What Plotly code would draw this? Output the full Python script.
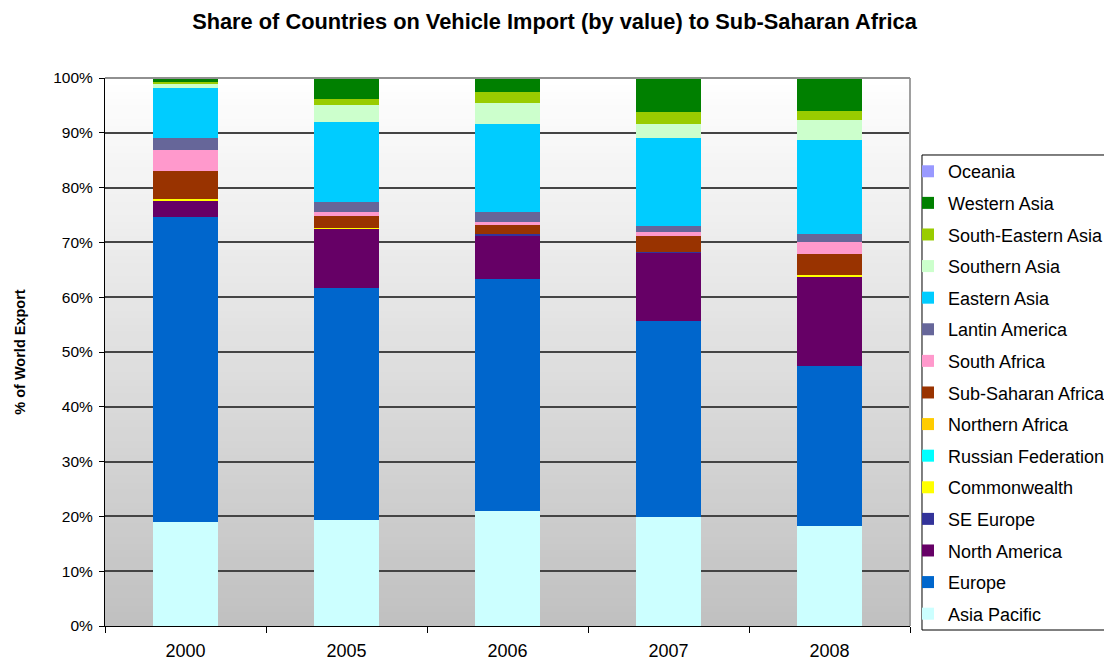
import plotly.graph_objects as go

years = ["2000", "2005", "2006", "2007", "2008"]

# stacked bottom -> top
asia_pacific      = [18.9, 19.3, 20.9, 19.9, 18.2]
europe            = [55.8, 42.4, 42.5, 35.8, 29.2]
north_america     = [3.0, 10.8, 7.9, 12.4, 16.4]
se_europe         = [0.0, 0.0, 0.2, 0.1, 0.0]
commonwealth      = [0.3, 0.2, 0.0, 0.0, 0.2]
russian_fed       = [0.0, 0.0, 0.0, 0.0, 0.0]
northern_africa   = [0.0, 0.0, 0.0, 0.0, 0.0]
sub_saharan       = [5.1, 2.2, 1.7, 3.0, 3.9]
south_africa      = [3.7, 0.7, 0.6, 0.7, 2.2]
latin_america     = [2.2, 1.8, 1.8, 1.1, 1.5]
eastern_asia      = [9.1, 14.6, 16.0, 16.1, 17.1]
southern_asia     = [0.9, 3.1, 3.8, 2.5, 3.6]
south_eastern_asia = [0.3, 1.1, 2.0, 2.2, 1.7]
western_asia      = [0.7, 3.8, 2.6, 6.2, 6.0]
oceania           = [0.0, 0.0, 0.0, 0.0, 0.0]

series = [
    ("Asia Pacific", asia_pacific, "#CCFFFF"),
    ("Europe", europe, "#0066CC"),
    ("North America", north_america, "#660066"),
    ("SE Europe", se_europe, "#333399"),
    ("Commonwealth", commonwealth, "#FFFF00"),
    ("Russian Federation", russian_fed, "#00FFFF"),
    ("Northern Africa", northern_africa, "#FFCC00"),
    ("Sub-Saharan Africa", sub_saharan, "#993300"),
    ("South Africa", south_africa, "#FF99CC"),
    ("Lantin America", latin_america, "#666699"),
    ("Eastern Asia", eastern_asia, "#00CCFF"),
    ("Southern Asia", southern_asia, "#CCFFCC"),
    ("South-Eastern Asia", south_eastern_asia, "#99CC00"),
    ("Western Asia", western_asia, "#008000"),
    ("Oceania", oceania, "#9999FF"),
]

FONT = "Liberation Sans, Arial, sans-serif"

fig = go.Figure()
for i, (name, vals, col) in enumerate(series):
    fig.add_trace(go.Bar(x=years, y=vals, name=name, legendgroup=name,
                         legendrank=1000 - i,
                         marker=dict(color=col, line=dict(width=0))))

# gradient background stripes
shapes = []
n = 80
for i in range(n):
    t = i / n
    c = int(round(0xC0 + (0xFF - 0xC0) * (t + 0.5 / n)))
    shapes.append(dict(type="rect", xref="x domain", yref="y domain",
                       x0=0, x1=1, y0=t, y1=t + 1.0 / n + 0.002,
                       fillcolor=f"rgb({c},{c},{c})", line=dict(width=0),
                       layer="below"))
# right and top border
shapes.append(dict(type="line", xref="x domain", yref="y domain", x0=1, x1=1,
                   y0=0, y1=1, line=dict(color="#A0A0A0", width=2)))
shapes.append(dict(type="line", xref="x domain", yref="y domain", x0=0, x1=1,
                   y0=1, y1=1, line=dict(color="#909090", width=2)))
# legend border box
shapes.append(dict(type="rect", xref="paper", yref="paper",
                   x0=1.0149, x1=1.2484, y0=-0.0073, y1=0.8595,
                   line=dict(color="black", width=1), fillcolor="rgba(0,0,0,0)"))

fig.update_layout(
    barmode="stack",
    bargap=0.595,
    width=1104, height=654,
    margin=dict(l=97, r=202, t=70, b=36, autoexpand=False),
    paper_bgcolor="white",
    plot_bgcolor="white",
    font=dict(family=FONT, color="black"),
    title=dict(text="<b>Share of Countries on Vehicle Import (by value) to Sub-Saharan Africa</b>",
               x=0.495, xanchor="center", y=0.979, yanchor="middle",
               font=dict(size=21.8, family=FONT)),
    legend=dict(traceorder="grouped", tracegroupgap=5.2,
                x=0.9975, xanchor="left", y=0.863, yanchor="top",
                borderwidth=0, bgcolor="rgba(0,0,0,0)",
                font=dict(size=18, family=FONT)),
    shapes=shapes,
    xaxis=dict(showline=True, linecolor="black", linewidth=1,
               ticks="outside", tickson="boundaries", ticklen=6, tickcolor="black",
               tickfont=dict(size=18), ticklabelstandoff=8, showgrid=False),
    yaxis=dict(range=[0, 100], dtick=10, ticksuffix="%",
               showline=True, linecolor="black", linewidth=1,
               ticks="outside", ticklen=5, tickcolor="black",
               tickfont=dict(size=15.5), ticklabelstandoff=3,
               showgrid=True, gridcolor="#444444", gridwidth=1.5,
               title=dict(text="<b>% of World Export</b>", font=dict(size=14.5), standoff=24),
               zeroline=False),
)

fig.write_html("out.html")
